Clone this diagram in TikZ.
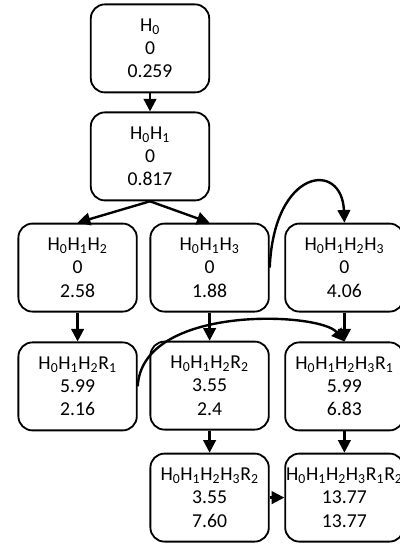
\documentclass[tikz,border=0pt]{standalone}
\usepackage{fontspec}
\setmainfont{Carlito}
\usetikzlibrary{arrows.meta}
\newcommand{\sbs}[1]{\textsubscript{#1}}

\begin{document}
\begin{tikzpicture}[
  box/.style={draw, line width=1.3pt, rounded corners=10pt, minimum width=2.96cm,
    minimum height=2.2cm, inner xsep=0pt, align=center, font=\fontsize{14}{16.5}\selectfont},
  arr/.style={line width=1.7pt, -{Triangle[length=9pt,width=9pt]}}]

\useasboundingbox (0,0) rectangle (10,13.6);

% top
\node [box] (h0) at (3.75,12.39) {H\sbs{0}\\0\\0.259};
\node [box] (h01) at (3.75,9.69) {H\sbs{0}H\sbs{1}\\0\\0.817};

% second row
\node [box] (h012) at (1.94,6.91) {H\sbs{0}H\sbs{1}H\sbs{2}\\0\\2.58};
\node [box] (h013) at (5.24,6.91) {H\sbs{0}H\sbs{1}H\sbs{3}\\0\\1.88};
\node [box] (h0123) at (8.61,6.91) {H\sbs{0}H\sbs{1}H\sbs{2}H\sbs{3}\\0\\4.06};

% third row
\node [box] (h012r1) at (1.94,3.94) {H\sbs{0}H\sbs{1}H\sbs{2}R\sbs{1}\\5.99\\2.16};
\node [box] (h012r2) at (5.24,3.96) {H\sbs{0}H\sbs{1}H\sbs{2}R\sbs{2}\\3.55\\2.4};
\node [box] (h0123r1) at (8.61,3.94) {H\sbs{0}H\sbs{1}H\sbs{2}H\sbs{3}R\sbs{1}\\5.99\\6.83};

% last row
\node [box] (h0123r2) at (5.24,1.16) {H\sbs{0}H\sbs{1}H\sbs{2}H\sbs{3}R\sbs{2}\\3.55\\7.60};
\node [box] (h0123r12) at (8.61,1.16) {H\sbs{0}H\sbs{1}H\sbs{2}H\sbs{3}R\sbs{1}R\sbs{2}\\13.77\\13.77};

% arrows
\draw [arr] (h0) -- (h01);
\draw [arr] (h01.south) -- (h012.north);
\draw [arr] (h01.south) -- (h013.north);
\draw [arr] (h012) -- (h012r1);
\draw [arr] (h013) -- (h012r2);
\draw [arr] (h0123) -- (h0123r1);
\draw [arr] (h012r2) -- (h0123r2);
\draw [arr] (h0123r1) -- (h0123r12);
\draw [arr] (h0123r2) -- (h0123r12);

% curved ones
\draw [arr] (h013.east) .. controls (6.85,9.4) and (8.55,9.6) .. (h0123.north);
\draw [arr] (h012r1.east) .. controls (3.55,6.0) and (8.0,5.8) .. (h0123r1.north);

\end{tikzpicture}
\end{document}
